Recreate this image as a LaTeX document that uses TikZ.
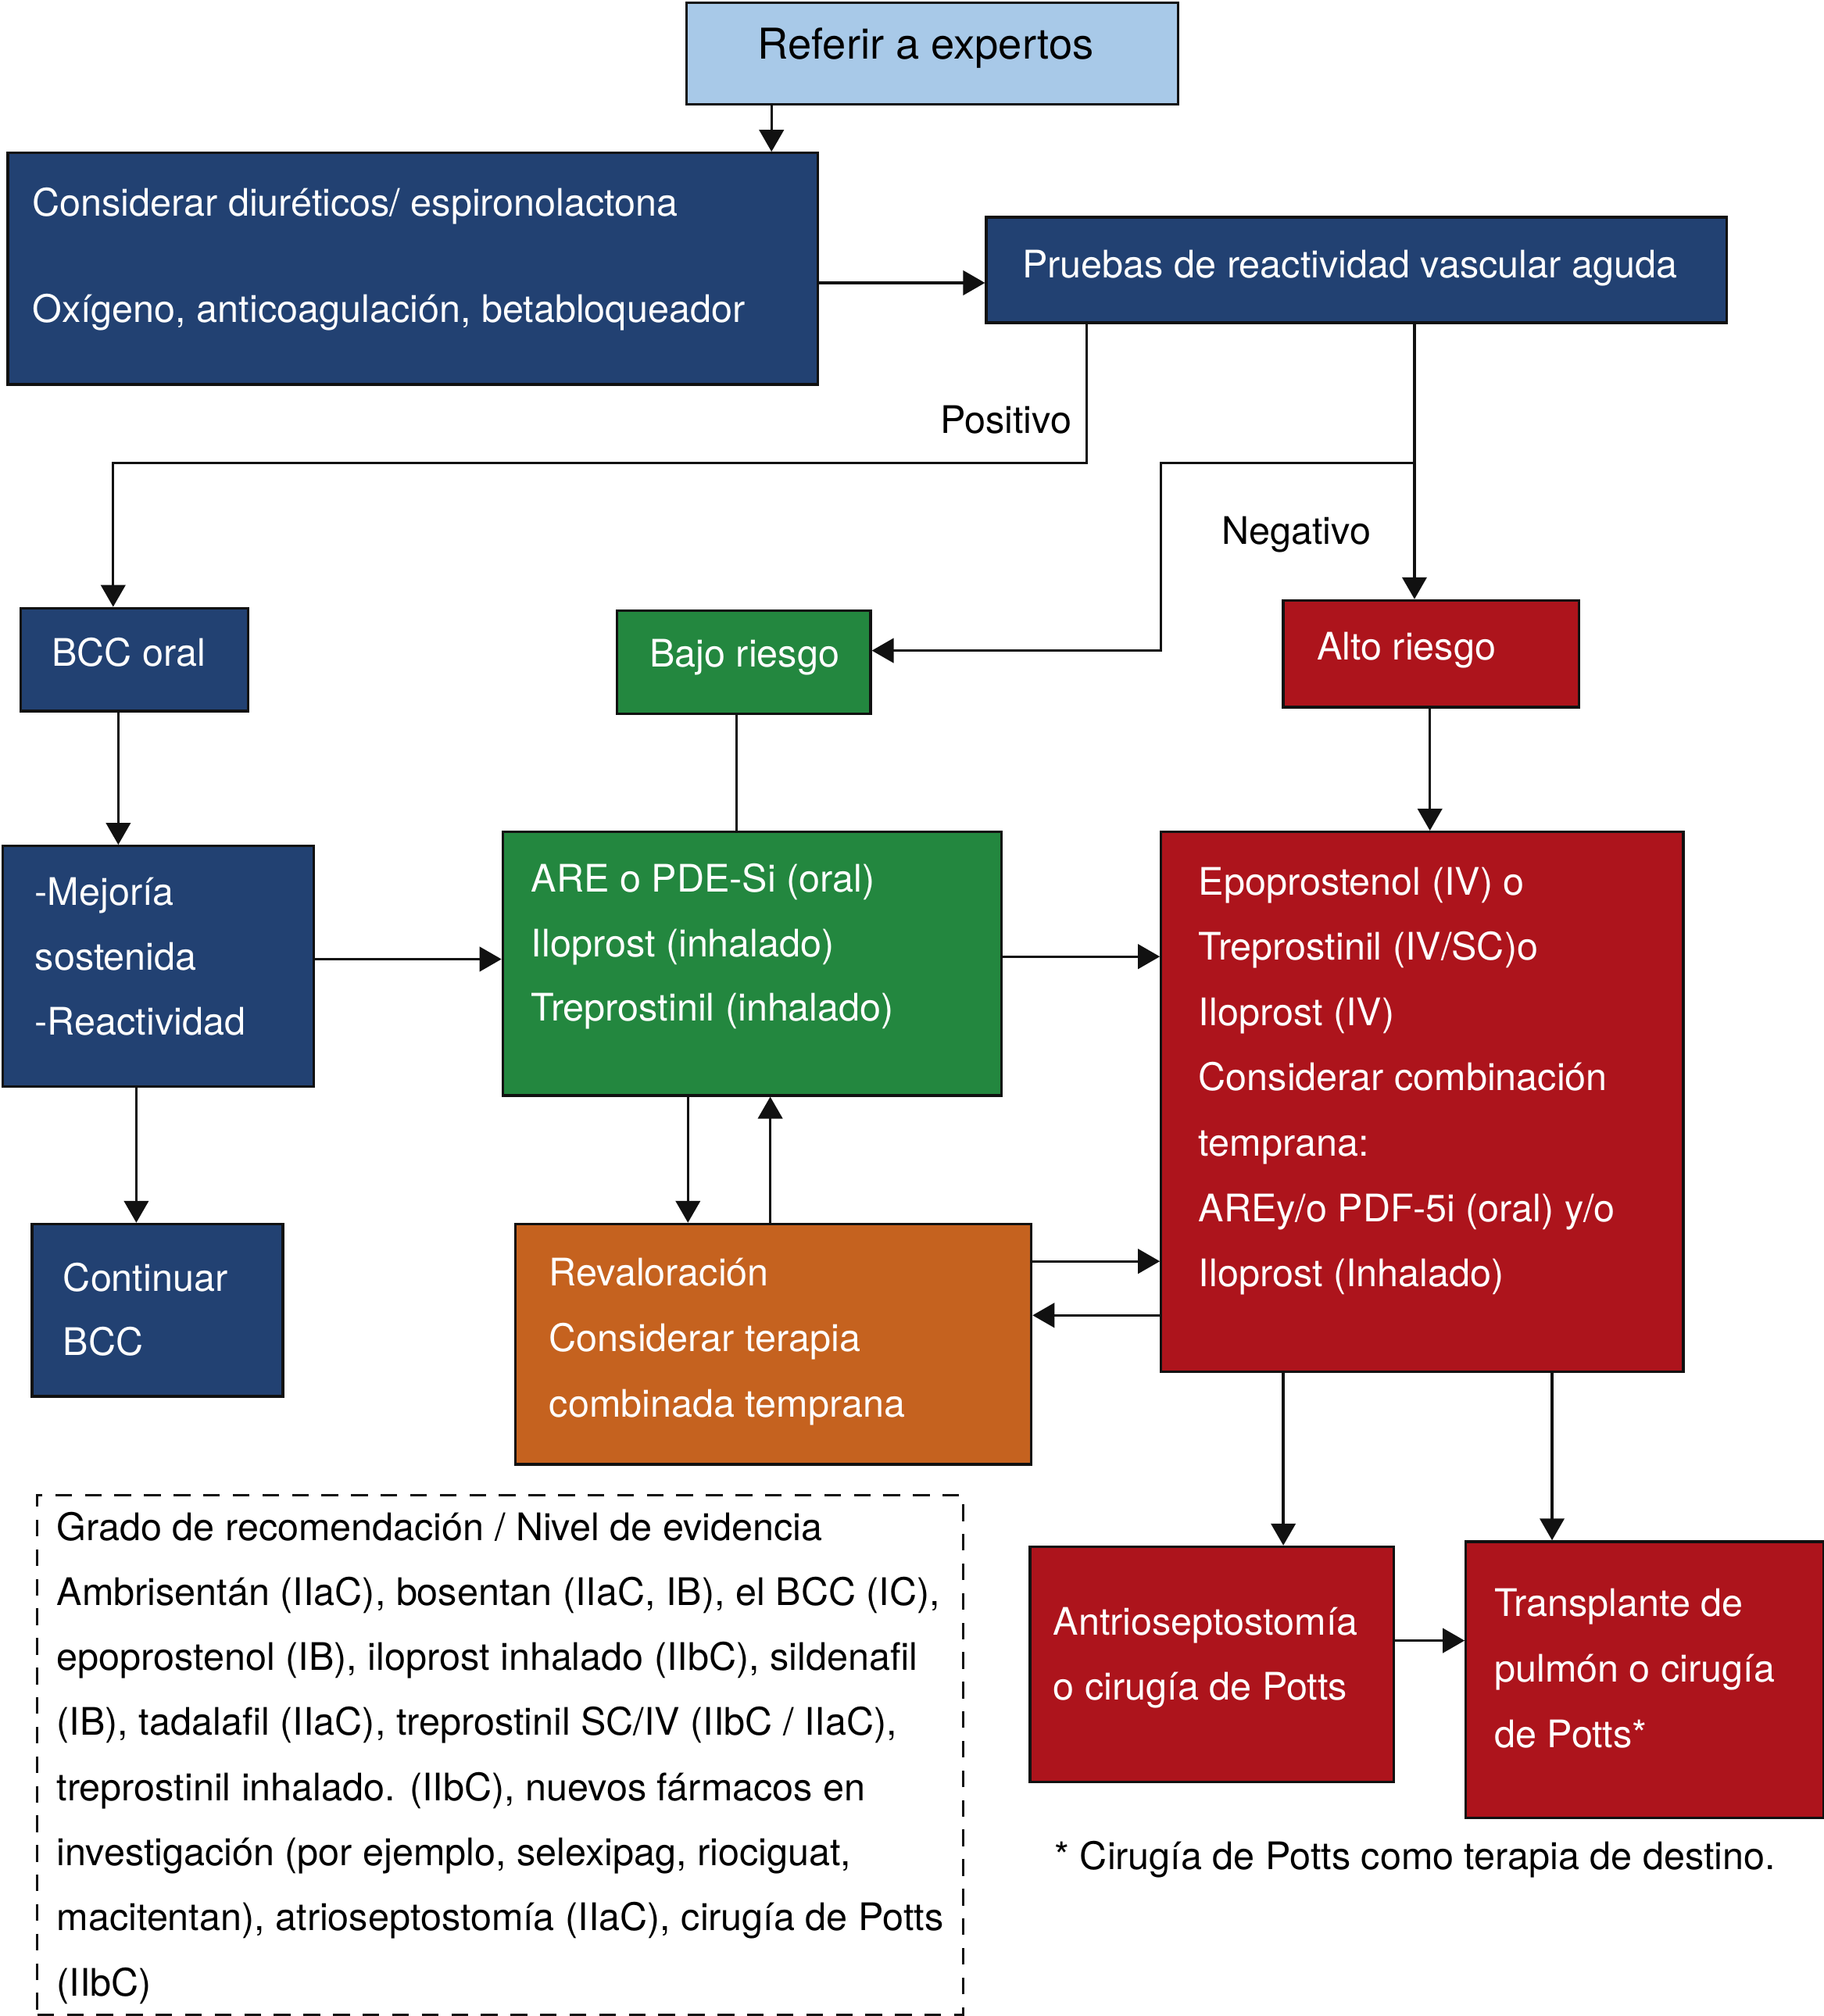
\documentclass[tikz,border=0pt]{standalone}
\usepackage{fontspec}
\setmainfont{TeX Gyre Heros}
\usetikzlibrary{arrows.meta}
\definecolor{dblue}{HTML}{224172}
\definecolor{lblue}{HTML}{A8C9E8}
\definecolor{dgreen}{HTML}{23873F}
\definecolor{dred}{HTML}{AD141C}
\definecolor{orng}{HTML}{C5621F}
\definecolor{edge}{HTML}{111111}
\begin{document}
\begin{tikzpicture}[x=1pt,y=-1pt,
  box/.style={draw=edge, line width=2pt, inner sep=0pt, anchor=north west},
  txt/.style={anchor=base west, inner sep=0pt, font=\fontsize{29.5}{35}\selectfont},
  wtxt/.style={txt, text=white},
  conn/.style={draw=edge, line width=2pt, -{Triangle[length=17pt,width=19pt]}},
  plain/.style={draw=edge, line width=2pt}]
\useasboundingbox (0,0) rectangle (1418,1568);

% boxes
\node[box, fill=lblue, minimum width=382pt, minimum height=79pt] (ref) at (533,1) {};
\node[box, fill=dblue, minimum width=630pt, minimum height=180pt] (cons) at (5,118) {};
\node[box, fill=dblue, minimum width=576pt, minimum height=82pt] (prue) at (766,168) {};
\node[box, fill=dblue, minimum width=177pt, minimum height=80pt] (bcc) at (15,472) {};
\node[box, fill=dgreen, minimum width=197pt, minimum height=80pt] (bajo) at (479,474) {};
\node[box, fill=dred, minimum width=230pt, minimum height=83pt] (alto) at (997,466) {};
\node[box, fill=dblue, minimum width=242pt, minimum height=187pt] (mej) at (1,657) {};
\node[box, fill=dgreen, minimum width=388pt, minimum height=205pt] (are) at (390,646) {};
\node[box, fill=dred, minimum width=406pt, minimum height=420pt] (epo) at (902,646) {};
\node[box, fill=dblue, minimum width=195pt, minimum height=134pt] (cont) at (24,951) {};
\node[box, fill=orng, minimum width=401pt, minimum height=187pt] (rev) at (400,951) {};
\node[box, fill=dred, minimum width=283pt, minimum height=183pt] (ant) at (800,1202) {};
\node[box, fill=dred, minimum width=278pt, minimum height=215pt] (tra) at (1139,1198) {};
\node[box, dashed, dash pattern=on 13pt off 10pt, minimum width=720pt, minimum height=404pt] (leg) at (28,1162) {};

% texts
\node[txt, anchor=base, font=\fontsize{33}{38}\selectfont] (reft) at (720,46) {Referir a expertos};
\node[wtxt] (cons1) at (25,168) {Considerar diuréticos/ espironolactona};
\node[wtxt] (cons2) at (25,251) {Oxígeno, anticoagulación, betabloqueador};
\node[wtxt] (pruet) at (795,216) {Pruebas de reactividad vascular aguda};
\node[txt] (pos) at (731,337) {Positivo};
\node[txt] (neg) at (950,423) {Negativo};
\node[wtxt] (bcct) at (40,518) {BCC oral};
\node[wtxt] (bajot) at (505,519) {Bajo riesgo};
\node[wtxt] (altot) at (1024,513) {Alto riesgo};
\foreach \t [count=\i] in {-Mejoría, sostenida, -Reactividad}
  \node[wtxt] (mej\i) at (27,{704+(\i-1)*50.5}) {\t};
\foreach \t [count=\i] in {ARE o PDE-Si (oral), Iloprost (inhalado), Treprostinil (inhalado)}
  \node[wtxt] (are\i) at (413,{694+(\i-1)*50}) {\t};
\foreach \t [count=\i] in {Epoprostenol (IV) o, Treprostinil (IV/SC)o, Iloprost (IV), Considerar combinación, temprana:, AREy/o PDF-5i (oral) y/o, Iloprost (Inhalado)}
  \node[wtxt] (epo\i) at (932,{696+(\i-1)*50.8}) {\t};
\foreach \t [count=\i] in {Continuar, BCC}
  \node[wtxt] (cont\i) at (49,{1004+(\i-1)*50}) {\t};
\foreach \t [count=\i] in {Revaloración, Considerar terapia, combinada temprana}
  \node[wtxt] (rev\i) at (427,{1000+(\i-1)*51}) {\t};
\foreach \t [count=\i] in {Antrioseptostomía, o cirugía de Potts}
  \node[wtxt] (ant\i) at (819,{1272+(\i-1)*50}) {\t};
\foreach \t [count=\i] in {Transplante de, pulmón o cirugía, de Potts*}
  \node[wtxt] (tra\i) at (1162,{1257+(\i-1)*51}) {\t};
\node[txt] (foot) at (820,1454) {* Cirugía de Potts como terapia de destino.};
\foreach \t [count=\i] in {Grado de recomendación / Nivel de evidencia,
  {Ambrisentán (IIaC), bosentan (IIaC, IB), el BCC (IC),},
  {epoprostenol (IB), iloprost inhalado (IIbC), sildenafil},
  {(IB), tadalafil (IIaC), treprostinil SC/IV (IIbC / IIaC),},
  {treprostinil inhalado. (IIbC), nuevos fármacos en},
  {investigación (por ejemplo, selexipag, riociguat,},
  {macitentan), atrioseptostomía (IIaC), cirugía de Potts},
  (IIbC)}
  \node[txt] (leg\i) at (44,{1198+(\i-1)*50.6}) {\t};

% connectors
\draw[conn] ([xshift=67pt]ref.south west) -- ([xshift=67pt]ref.south west |- cons.north);
\draw[conn] ([yshift=-11pt]cons.east) -- ([yshift=-11pt]cons.east -| prue.west);
\draw[conn] ([xshift=79pt]prue.south west) -- ++(0,108) -| ([xshift=73pt]bcc.north west);
\draw[conn] ([xshift=334pt]prue.south west) -- ([xshift=334pt]prue.south west |- alto.north);
\draw[conn] ([xshift=334pt,yshift=-108pt]prue.south west) -- ++(-197,0) |- ([yshift=9pt]bajo.east);
\draw[conn] ([xshift=77pt]bcc.south west) -- ([xshift=77pt]bcc.south west |- mej.north);
\draw[plain] ([xshift=94pt]bajo.south west) -- ([xshift=94pt]bajo.south west |- are.north);
\draw[conn] ([xshift=115pt]alto.south west) -- ([xshift=115pt]alto.south west |- epo.north);
\draw[conn] ([yshift=5.5pt]mej.east) -- ([yshift=5.5pt]mej.east -| are.west);
\draw[conn] ([yshift=5.5pt]are.east) -- ([yshift=5.5pt]are.east -| epo.west);
\draw[conn] ([xshift=105pt]mej.south west) -- ([xshift=105pt]mej.south west |- cont.north);
\draw[conn] ([xshift=145pt]are.south west) -- ([xshift=145pt]are.south west |- rev.north);
\draw[conn] ([xshift=199pt]rev.north west) -- ([xshift=199pt]rev.north west |- are.south);
\draw[conn] ([yshift=-30pt]rev.north east) -- ([yshift=-30pt]rev.north east -| epo.west);
\draw[conn] ([yshift=-72pt]rev.north east -| epo.west) -- ([yshift=-72pt]rev.north east);
\draw[conn] ([xshift=96pt]epo.south west) -- ([xshift=96pt]epo.south west |- ant.north);
\draw[conn] ([xshift=305pt]epo.south west) -- ([xshift=305pt]epo.south west |- tra.north);
\draw[conn] ([yshift=-74pt]ant.north east) -- ([yshift=-74pt]ant.north east -| tra.west);
\end{tikzpicture}
\end{document}
